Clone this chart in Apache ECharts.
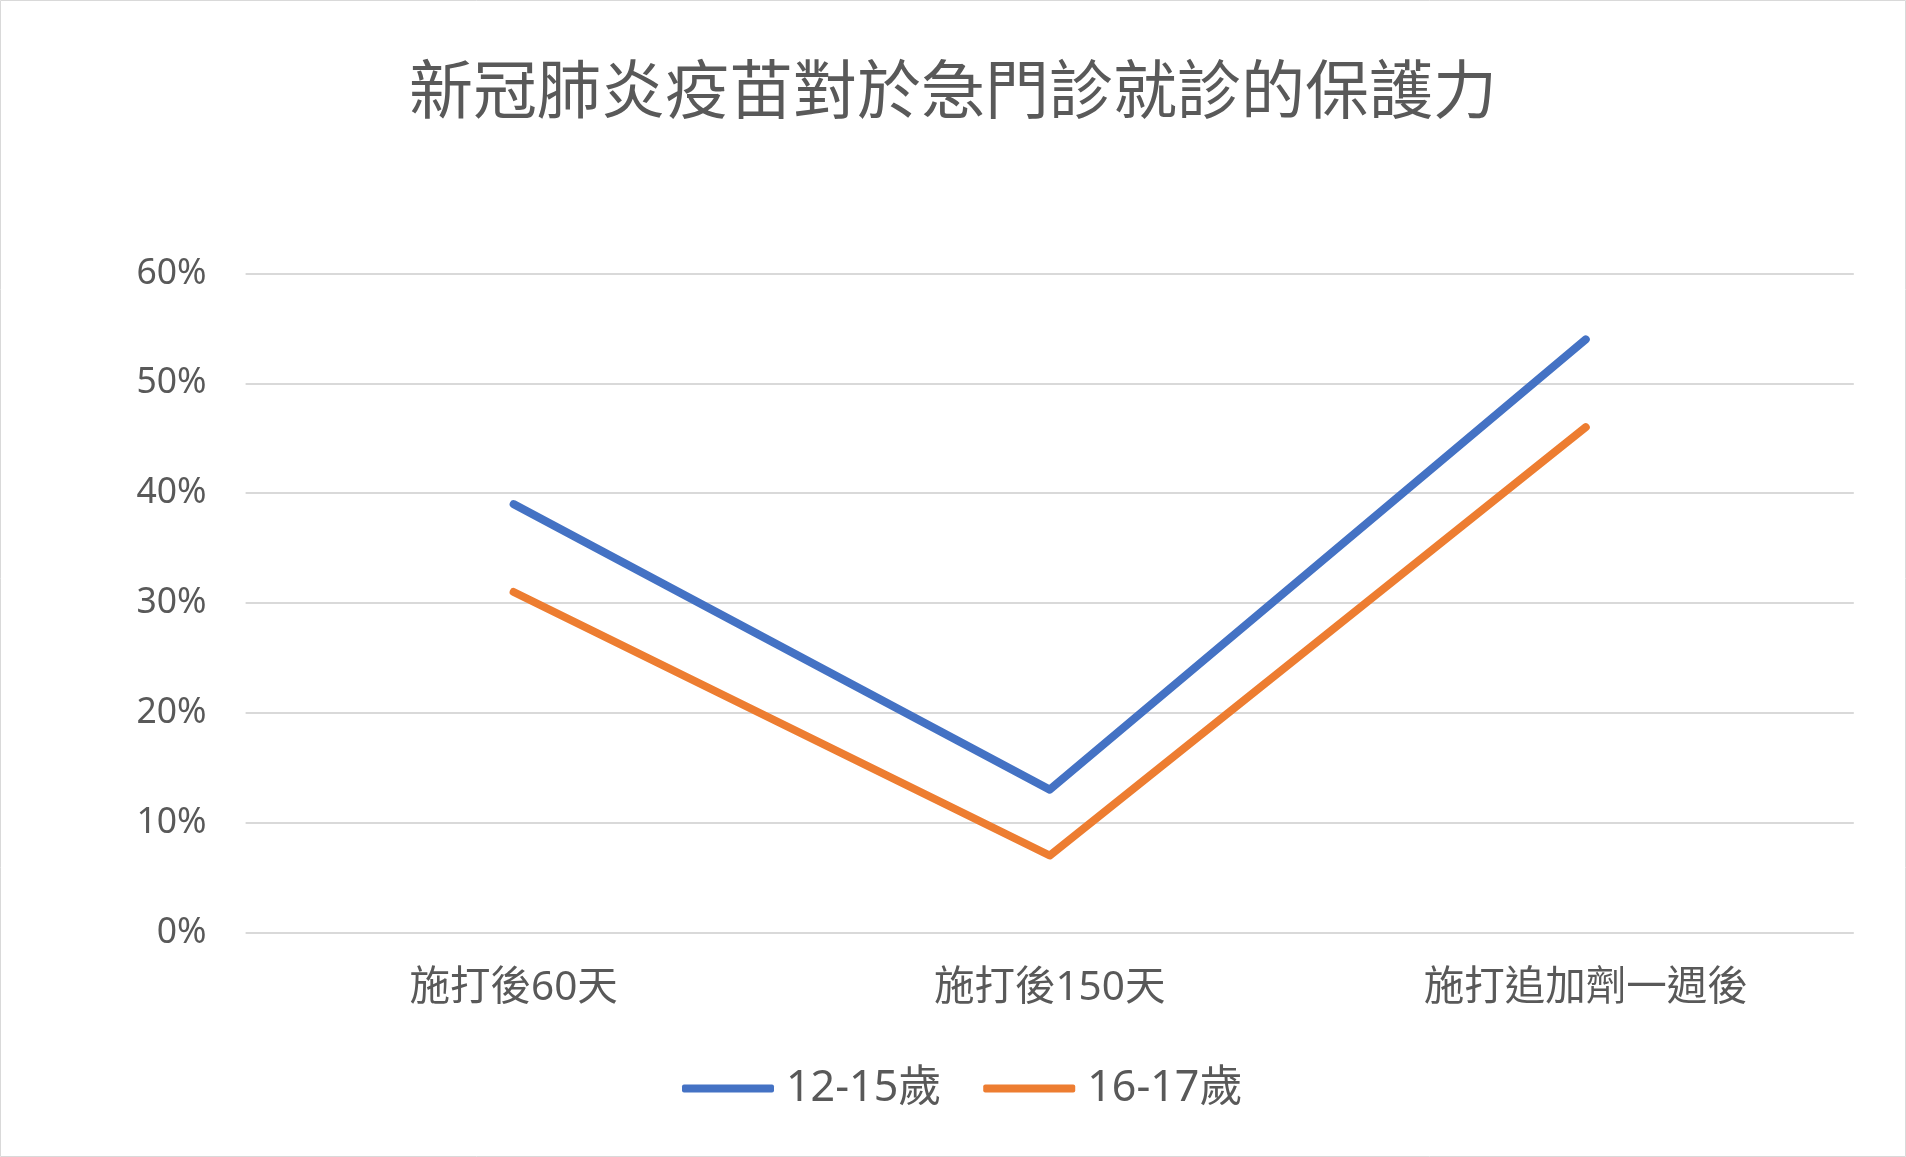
<!DOCTYPE html>
<html>
<head>
<meta charset="utf-8">
<script src="https://cdn.jsdelivr.net/npm/echarts@6/dist/echarts.min.js"></script>
<style>
html,body{margin:0;padding:0;background:#fff;}
#chart{width:1906px;height:1157px;}
</style>
</head>
<body>
<div id="chart"></div>
<script>
const title = '新冠肺炎疫苗對於急門診就診的保護力';
const categories = ['施打後60天', '施打後150天', '施打追加劑一週後'];
const seriesNames = ['12-15歲', '16-17歲'];
const values1215 = [0.39, 0.13, 0.54];
const values1617 = [0.31, 0.07, 0.46];
const yTicks = [0, 0.1, 0.2, 0.3, 0.4, 0.5, 0.6];

const FONT = "'Noto Sans', 'Noto Sans CJK TC', sans-serif";
const TXT = '#595959';
const chart = echarts.init(document.getElementById('chart'), null, {renderer: 'canvas'});
chart.setOption({
  backgroundColor: '#ffffff',
  animation: false,
  title: {
    text: title,
    left: 'center',
    top: 52,
    textStyle: {fontFamily: "'Noto Sans CJK TC', sans-serif", fontSize: 64, fontWeight: 'normal', color: TXT}
  },
  graphic: [{
    type: 'rect',
    shape: {x: 0.5, y: 0.5, width: 1905, height: 1156},
    style: {fill: 'none', stroke: '#d9d9d9', lineWidth: 1},
    silent: true
  }],
  legend: {
    left: 677,
    top: 1062,
    itemWidth: 92,
    itemHeight: 8,
    itemGap: 42,
    icon: 'roundRect',
    textStyle: {fontFamily: FONT, fontSize: 43, color: TXT, padding: [0, 0, 0, 7]},
    data: seriesNames
  },
  grid: {left: 245.6, right: 52.2, top: 273.5, bottom: 224.6, containLabel: false},
  xAxis: {
    type: 'category',
    data: categories,
    boundaryGap: true,
    axisLine: {show: false},
    axisTick: {show: false},
    axisLabel: {fontFamily: FONT, fontSize: 40.5, color: TXT, margin: 36}
  },
  yAxis: {
    type: 'value',
    min: 0,
    max: 0.6,
    interval: 0.1,
    axisLine: {show: false},
    axisTick: {show: false},
    splitLine: {lineStyle: {color: '#d9d9d9', width: 2}},
    axisLabel: {
      fontFamily: FONT, fontSize: 35.5, color: TXT, margin: 39,
      formatter: v => Math.round(v * 100) + '%'
    }
  },
  series: [
    {
      name: seriesNames[0], type: 'line', data: values1215,
      symbol: 'none', color: '#4472C4',
      lineStyle: {width: 8, color: '#4472C4', cap: 'round', join: 'round'}
    },
    {
      name: seriesNames[1], type: 'line', data: values1617,
      symbol: 'none', color: '#ED7D31',
      lineStyle: {width: 8, color: '#ED7D31', cap: 'round', join: 'round'}
    }
  ]
});
</script>
</body>
</html>
